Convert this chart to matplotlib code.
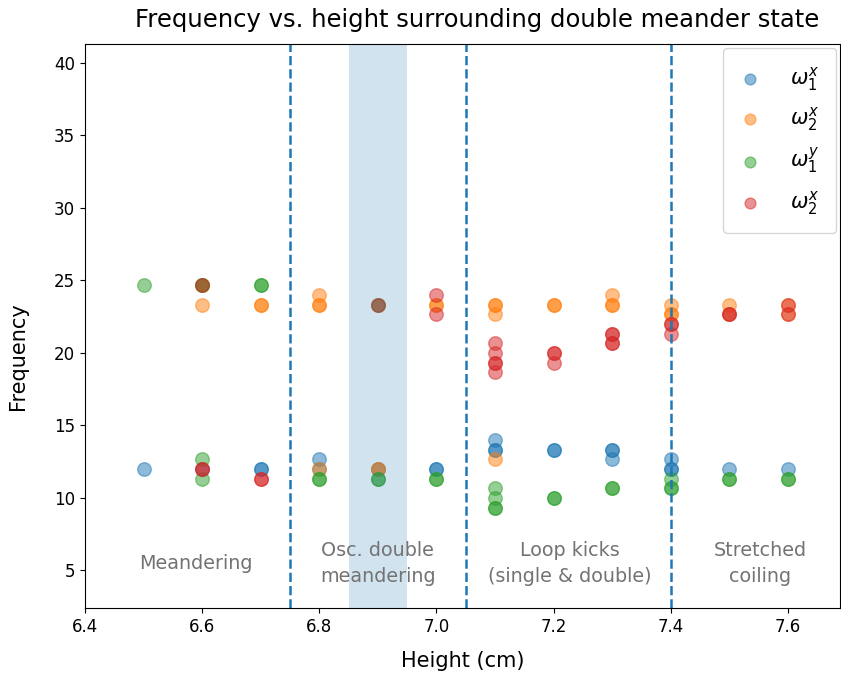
import matplotlib
matplotlib.use('Agg')
import matplotlib.pyplot as plt

# heights (cm) and frequencies for each mode, one point per trial
h1x = [6.5, 6.6, 6.7, 6.7, 6.8, 6.8, 6.9, 7.0, 7.0,
       7.1, 7.1, 7.1, 7.2, 7.2, 7.3, 7.3, 7.3, 7.4, 7.4, 7.4, 7.5, 7.6]
f1x = [12.0, 12.0, 12.0, 12.0, 12.67, 12.0, 12.0, 12.0, 12.0,
       14.0, 13.33, 13.33, 13.33, 13.33, 13.33, 13.33, 12.67, 12.67, 12.0, 12.0, 12.0, 12.0]

h2x = [6.6, 6.6, 6.7, 6.7, 6.8, 6.8, 6.8, 6.8, 6.9, 6.9, 6.9, 7.0, 7.0,
       7.1, 7.1, 7.1, 7.1, 7.2, 7.2, 7.3, 7.3, 7.3, 7.4, 7.4, 7.4, 7.5, 7.5, 7.6, 7.6]
f2x = [24.67, 23.33, 23.33, 23.33, 24.0, 23.33, 23.33, 12.0, 23.33, 12.0, 12.0, 23.33, 23.33,
       23.33, 23.33, 22.67, 12.67, 23.33, 23.33, 24.0, 23.33, 23.33, 23.33, 22.67, 22.67,
       23.33, 22.67, 23.33, 22.67]

h1y = [6.5, 6.6, 6.6, 6.6, 6.6, 6.7, 6.7, 6.8, 6.8, 6.9, 6.9, 6.9, 7.0, 7.0,
       7.1, 7.1, 7.1, 7.1, 7.2, 7.2, 7.3, 7.3, 7.4, 7.4, 7.4, 7.5, 7.5, 7.6, 7.6]
f1y = [24.67, 24.67, 24.67, 12.67, 11.33, 24.67, 24.67, 11.33, 11.33, 23.33, 11.33, 11.33, 11.33, 11.33,
       10.67, 10.0, 9.33, 9.33, 10.0, 10.0, 10.67, 10.67, 11.33, 10.67, 10.67, 11.33, 11.33, 11.33, 11.33]

h2y = [6.6, 6.6, 6.6, 6.7, 6.7, 6.9, 7.0, 7.0,
       7.1, 7.1, 7.1, 7.1, 7.1, 7.2, 7.2, 7.2, 7.3, 7.3, 7.3, 7.3, 7.4, 7.4, 7.4,
       7.5, 7.5, 7.6, 7.6]
f2y = [24.67, 12.0, 12.0, 11.33, 11.33, 23.33, 24.0, 22.67,
       20.67, 20.0, 19.33, 19.33, 18.67, 20.0, 20.0, 19.33, 21.33, 21.33, 20.67, 20.67, 22.0, 22.0, 21.33,
       22.67, 22.67, 23.33, 22.67]

transitions = [6.75, 7.05, 7.4]
regime_x = [6.59, 6.9, 7.228, 7.552]
regime_names = ['Meandering', 'Osc. double\nmeandering', 'Loop kicks\n(single & double)', 'Stretched\ncoiling']

fig = plt.figure(figsize=(8.41, 6.79), dpi=100)
ax = fig.add_axes([0.101, 0.1046, 0.898, 0.8304])

ax.scatter(h1x, f1x, s=95, alpha=0.5, label=r'$\omega_1^x$')
ax.scatter(h2x, f2x, s=95, alpha=0.5, label=r'$\omega_2^x$')
ax.scatter(h1y, f1y, s=95, alpha=0.5, label=r'$\omega_1^y$')
ax.scatter(h2y, f2y, s=95, alpha=0.5, label=r'$\omega_2^x$')

for t in transitions:
    ax.axvline(t, color='C0', linestyle='--', lw=1.8)
ax.axvspan(6.85, 6.95, alpha=0.2, lw=0)

for x, name in zip(regime_x, regime_names):
    ax.text(x, 5.45, name, ha='center', va='center', color='0.45',
            fontsize=13.8, linespacing=1.45)

ax.set_xlim(6.4, 7.689)
ax.set_ylim(2.4, 41.3)
ax.set_xticks([6.4, 6.6, 6.8, 7.0, 7.2, 7.4, 7.6])
ax.set_yticks([5, 10, 15, 20, 25, 30, 35, 40])
ax.tick_params(labelsize=12)
ax.set_xlabel('Height (cm)', fontsize=15, labelpad=11)
ax.set_ylabel('Frequency', fontsize=15)
ax.yaxis.set_label_coords(-0.076, 0.447)
ax.set_title('Frequency vs. height surrounding double meander state', fontsize=17.5,
             x=0.519, pad=12)
ax.legend(loc='upper right', fontsize=15, markerscale=0.8, labelspacing=0.6,
          borderpad=0.8, borderaxespad=0.2, handlelength=1.0, handletextpad=1.4)

fig.savefig('out.png', dpi=100)
